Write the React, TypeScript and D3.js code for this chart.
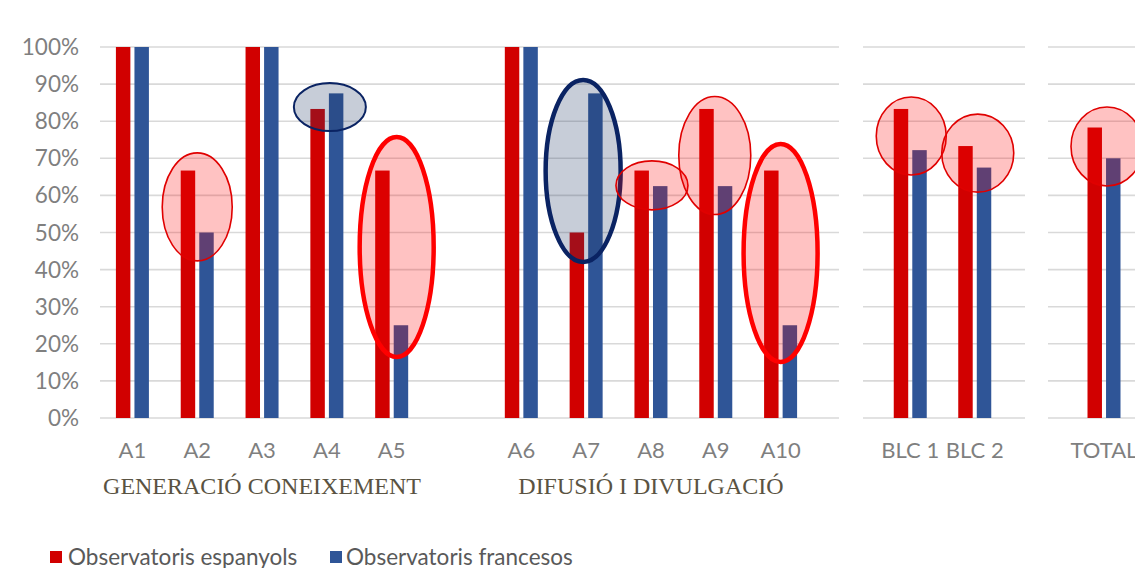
import React from "react";
import * as d3 from "d3";

const categoriesP1 = ["A1", "A2", "A3", "A4", "A5", "", "A6", "A7", "A8", "A9", "A10"];
const categoriesP2 = ["BLC 1", "BLC 2"];
const categoriesP3 = ["TOTAL"];
const seriesNames = ["Observatoris espanyols", "Observatoris francesos"];
const espanyols: Record<string, number> = {
  A1: 1, A2: 0.667, A3: 1, A4: 0.833, A5: 0.667,
  A6: 1, A7: 0.5, A8: 0.667, A9: 0.833, A10: 0.667,
  "BLC 1": 0.833, "BLC 2": 0.733, TOTAL: 0.783,
};
const francesos: Record<string, number> = {
  A1: 1, A2: 0.5, A3: 1, A4: 0.875, A5: 0.25,
  A6: 1, A7: 0.875, A8: 0.625, A9: 0.625, A10: 0.25,
  "BLC 1": 0.722, "BLC 2": 0.675, TOTAL: 0.7,
};
const yTicks = [0, 0.1, 0.2, 0.3, 0.4, 0.5, 0.6, 0.7, 0.8, 0.9, 1];
const groupLabels = ["GENERACIÓ CONEIXEMENT", "DIFUSIÓ I DIVULGACIÓ"];
const groupMembers = [["A1", "A5"], ["A6", "A10"]];

// annotation ellipses: category, centre value, style kind
const annotations = [
  { cat: "A2", v: 0.569, dx: 0, rx: 35, ry: 54, kind: "redThin" },
  { cat: "A4", v: 0.838, dx: 3, rx: 36, ry: 24, kind: "navyThin" },
  { cat: "A5", v: 0.461, dx: 5, rx: 37, ry: 110, kind: "redThick" },
  { cat: "A7", v: 0.666, dx: -3, rx: 37.5, ry: 91, kind: "navyThick" },
  { cat: "A8", v: 0.627, dx: 1, rx: 36, ry: 24.5, kind: "redThin" },
  { cat: "A9", v: 0.7075, dx: -1, rx: 36, ry: 59, kind: "redThin" },
  { cat: "A10", v: 0.445, dx: 0, rx: 37, ry: 109, kind: "redThick" },
  { cat: "BLC 1", v: 0.76, dx: 1, rx: 35, ry: 39, kind: "redThin" },
  { cat: "BLC 2", v: 0.714, dx: 3, rx: 36, ry: 39, kind: "redThin" },
  { cat: "TOTAL", v: 0.732, dx: 3, rx: 36, ry: 39.5, kind: "redThin" },
];

const RED = "#D10000";
const BLUE = "#2F5597";
const GRID = "#D9D9D9";
const FONT = "Lato, 'Open Sans', sans-serif";

const styles: Record<string, any> = {
  redThin: { fill: "rgba(255,0,0,0.24)", stroke: "#E00000", sw: 1.6 },
  redThick: { fill: "rgba(255,0,0,0.24)", stroke: "#FF0000", sw: 4.5 },
  navyThin: { fill: "rgba(31,56,100,0.25)", stroke: "#0A2363", sw: 2 },
  navyThick: { fill: "rgba(31,56,100,0.25)", stroke: "#0A2363", sw: 4.5 },
};

export default function App() {
  const W = 1135, H = 568;
  const y = d3.scaleLinear().domain([0, 1]).range([418, 47]);
  const panels = [
    { cats: categoriesP1, x: d3.scaleBand<string>().domain(categoriesP1).range([100, 813]), grid: [100, 839] },
    { cats: categoriesP2, x: d3.scaleBand<string>().domain(categoriesP2).range([878, 1007]), grid: [863, 1025] },
    { cats: categoriesP3, x: d3.scaleBand<string>().domain(categoriesP3).range([1071.5, 1136.5]), grid: [1048, 1135] },
  ];
  const xInner = d3.scaleBand<string>().domain(seriesNames).range([-16.5, 16.5]).paddingInner(0.22);
  const colors = [RED, BLUE];
  const vals = [espanyols, francesos];

  const centerOf = (cat: string) => {
    for (const p of panels) {
      if (p.cats.includes(cat)) return (p.x(cat) as number) + p.x.bandwidth() / 2;
    }
    return 0;
  };

  return (
    <svg width={W} height={H} style={{ display: "block", position: "absolute", left: 0, top: 0, background: "#fff" }}>
      <rect width={W} height={H} fill="#fff" />
      {/* gridlines */}
      {panels.map((p, pi) => (
        <g key={"g" + pi}>
          {yTicks.map((t) => (
            <line key={t} x1={p.grid[0]} x2={p.grid[1]} y1={y(t)} y2={y(t)} stroke={GRID} strokeWidth={1.6} />
          ))}
        </g>
      ))}
      {/* y tick labels */}
      {yTicks.map((t) => (
        <text key={"t" + t} x={79} y={y(t) + 8} textAnchor="end" fontFamily={FONT} fontSize={22.5} fill="#7F7F7F">
          {d3.format(".0%")(t)}
        </text>
      ))}
      {/* bars */}
      {panels.map((p, pi) => (
        <g key={"b" + pi}>
          {p.cats.filter((c) => c !== "").map((c) => {
            const cx = (p.x(c) as number) + p.x.bandwidth() / 2;
            return (
              <g key={c}>
                {seriesNames.map((s, si) => (
                  <rect key={s} x={cx + (xInner(s) as number)} width={xInner.bandwidth()} y={y(vals[si][c])}
                    height={y(0) - y(vals[si][c])} fill={colors[si]} />
                ))}
                <text x={cx} y={458} textAnchor="middle" fontFamily={FONT} fontSize={22} fill="#7F7F7F">{c}</text>
              </g>
            );
          })}
        </g>
      ))}
      {/* annotation ellipses */}
      {annotations.map((a, i) => {
        const st = styles[a.kind];
        return (
          <ellipse key={"e" + i} cx={centerOf(a.cat) + a.dx} cy={y(a.v)} rx={a.rx} ry={a.ry}
            fill={st.fill} stroke={st.stroke} strokeWidth={st.sw} />
        );
      })}
      {/* group labels */}
      {groupLabels.map((g, gi) => {
        const [a, b] = groupMembers[gi];
        const mid = (centerOf(a) + centerOf(b)) / 2;
        return (
          <text key={g} x={mid} y={494} textAnchor="middle" fontFamily="'Liberation Serif', 'Times New Roman', serif"
            fontSize={24} fill="#5A5342">{g}</text>
        );
      })}
      {/* legend */}
      <g>
        <rect x={50} y={551} width={12} height={12} fill={RED} />
        <text x={68} y={565} fontFamily={FONT} fontSize={22.5} fill="#595959">{seriesNames[0]}</text>
        <rect x={330} y={551} width={12} height={12} fill={BLUE} />
        <text x={346} y={565} fontFamily={FONT} fontSize={22.5} fill="#595959">{seriesNames[1]}</text>
      </g>
    </svg>
  );
}
